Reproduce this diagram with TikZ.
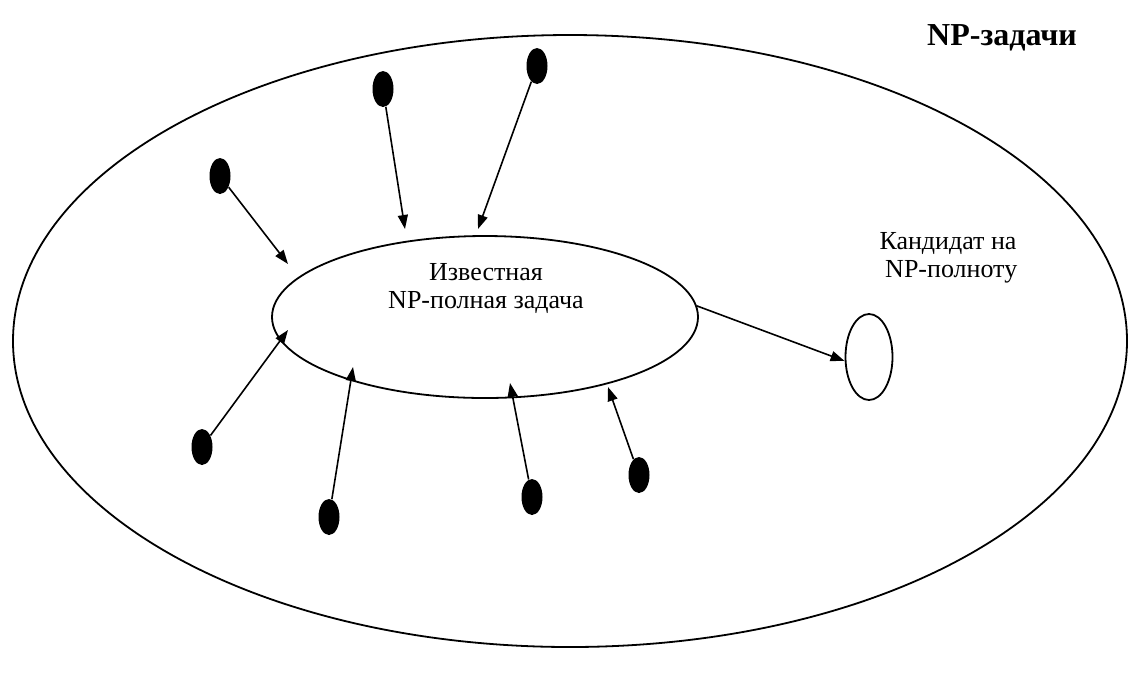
\documentclass[tikz,border=0pt]{standalone}
\usepackage{fontspec}
\setmainfont{Liberation Serif}
\usetikzlibrary{shapes.geometric}
\usetikzlibrary{arrows.meta}

\begin{document}
\begin{tikzpicture}
		[x=0.5pt, y=-0.5pt,
		 dot/.style={ellipse, fill=black, inner sep=0pt, minimum width=10.5pt, minimum height=18pt},
		 link/.style={-{Triangle[length=7pt, width=5pt]}, line width=0.8pt}]
		\useasboundingbox (0,0) rectangle (1130,677);
		\node[ellipse, draw, line width=0.9pt, minimum width=557pt, minimum height=306pt] (np) at (570,341) {};
		\node[font=\bfseries\fontsize{16}{18}\selectfont] (title) at (1002,38) {NP-задачи};
		\node[ellipse, draw, line width=0.9pt, minimum width=213pt, minimum height=81pt] (known) at (485,317) {};
		\node[align=center, font=\fontsize{13}{14}\selectfont] (knowntxt) at (486,288) {Известная\\NP-полная задача};
		\node[align=center, font=\fontsize{13}{14}\selectfont] (candtxt) at (948,258) {Кандидат на\\ \ NP-полноту};
		\node[ellipse, draw, line width=0.9pt, minimum width=23.5pt, minimum height=43pt] (cand) at (869,357) {};

		\node[dot] (a) at (220,176) {};
		\node[dot] (b) at (383,89) {};
		\node[dot] (c) at (537,66) {};
		\node[dot] (d) at (202,447) {};
		\node[dot] (e) at (329,517) {};
		\node[dot] (f) at (532,497) {};
		\node[dot] (g) at (639,475) {};

		\coordinate (ta) at (288,264);
		\coordinate (tb) at (405,229);
		\coordinate (tc) at (478,229);
		\coordinate (td) at (288,330);
		\coordinate (te) at (353,367);
		\coordinate (tf) at (510,383);
		\coordinate (tg) at (608,387);

		\draw[link] (a) -- (ta);
		\draw[link] (b) -- (tb);
		\draw[link] (c) -- (tc);
		\draw[link] (d) -- (td);
		\draw[link] (e) -- (te);
		\draw[link] (f) -- (tf);
		\draw[link] (g) -- (tg);
		\draw[link] (known.3) -- ([yshift=-2pt]cand.west);
	\end{tikzpicture}
\end{document}
